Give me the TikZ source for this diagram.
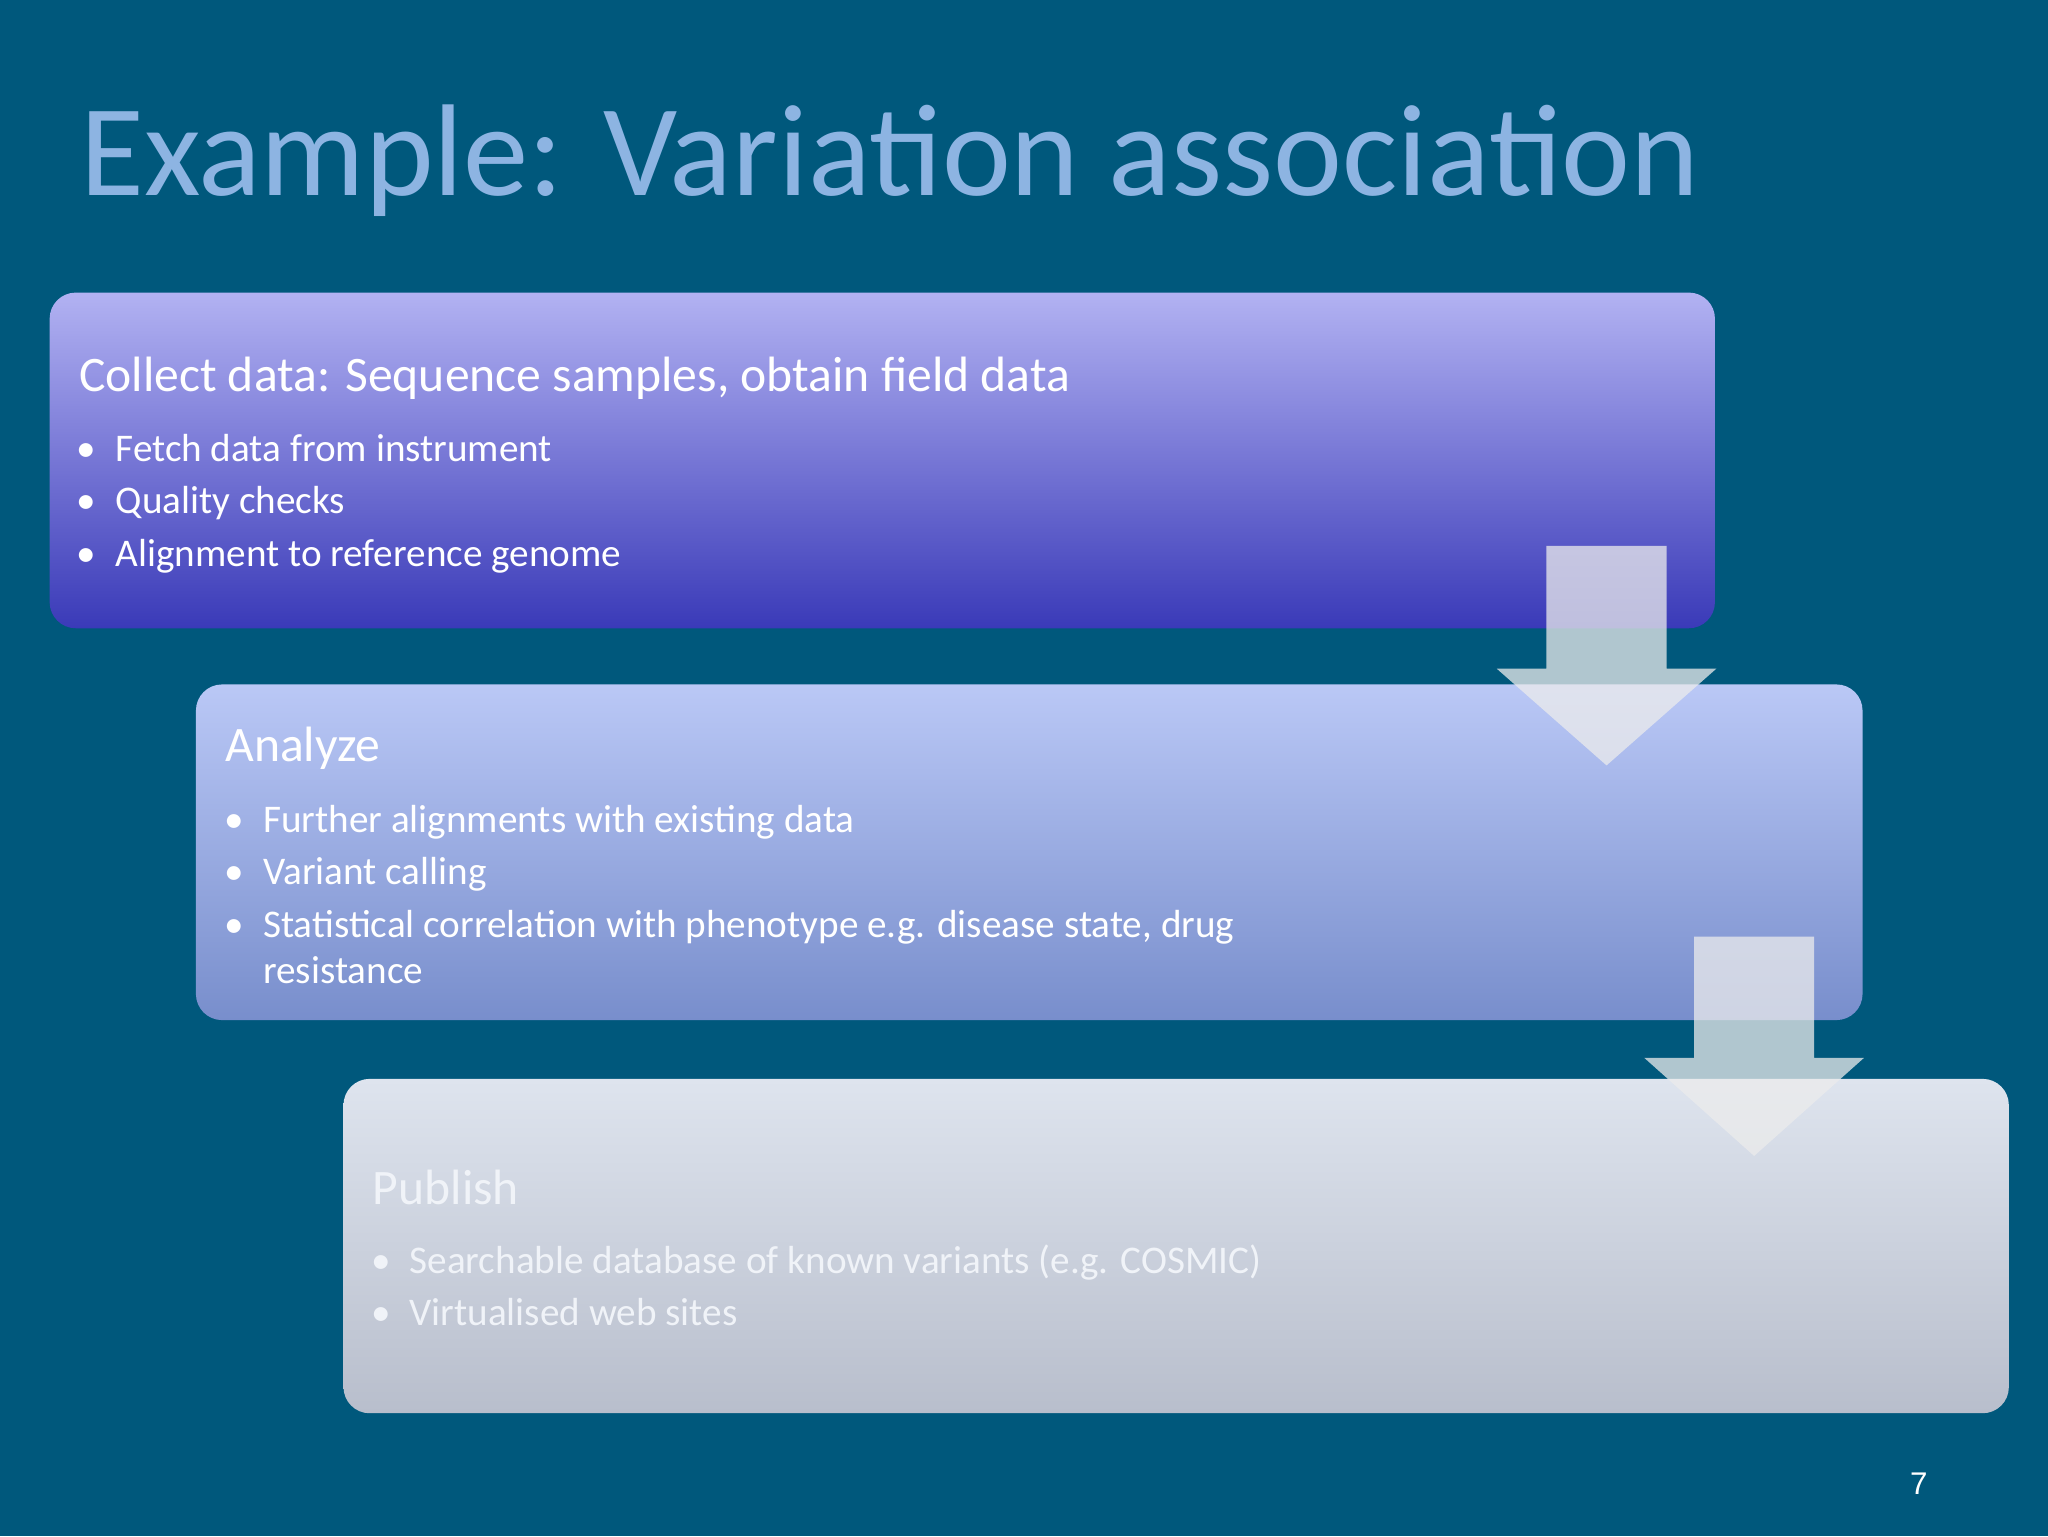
\documentclass[tikz,border=0pt]{standalone}
\usepackage{fontspec}
\setmainfont{Carlito}
\newfontfamily\arialf{Liberation Sans}
\begin{document}
\begin{tikzpicture}[x=1pt,y=-1pt,
  box/.style={rounded corners=20pt},
  arr/.style={fill=white!85!gray, fill opacity=0.75},
  hd/.style={anchor=base west, font=\fontsize{38}{40}\selectfont, text=white},
  bl/.style={anchor=base west, font=\fontsize{30}{34}\selectfont, text=white},
  dot/.style={anchor=base west, font=\fontsize{30}{34}\selectfont, text=white}]
\fill[fill={rgb,255:red,0;green,88;blue,124}] (0,0) rectangle (1568,1176);
\useasboundingbox (0,0) rectangle (1568,1176);
\node[anchor=base west, text={rgb,255:red,141;green,180;blue,226}, font=\fontsize{100}{100}\selectfont] (title) at (58,150) {Example: Variation association};
% box 1
\shade[box, top color={rgb,255:red,178;green,178;blue,242}, bottom color={rgb,255:red,58;green,58;blue,184}] (38,224) rectangle (1313,481);
\node[hd] (h1) at (57,300) {Collect data: Sequence samples, obtain field data};
\node[dot] (d11) at (55,353) {•}; \node[bl] (b11) at (85,353) {Fetch data from instrument};
\node[dot] (d12) at (55,393) {•}; \node[bl] (b12) at (85,393) {Quality checks};
\node[dot] (d13) at (55,434) {•}; \node[bl] (b13) at (85,434) {Alignment to reference genome};
% box 2
\shade[box, top color={rgb,255:red,186;green,200;blue,246}, bottom color={rgb,255:red,120;green,142;blue,204}] (150,524) rectangle (1426,781);
\node[hd] (h2) at (169,583) {Analyze};
\node[dot] (d21) at (168,637) {•}; \node[bl] (b21) at (198,637) {Further alignments with existing data};
\node[dot] (d22) at (168,677) {•}; \node[bl] (b22) at (198,677) {Variant calling};
\node[dot] (d23) at (168,718) {•}; \node[bl] (b23) at (198,718) {Statistical correlation with phenotype e.g. disease state, drug};
\node[bl] (b24) at (198,753) {resistance};
% arrow 1
\fill[arr] (1184,418) -- (1276,418) -- (1276,512) -- (1314,512) -- (1230,586) -- (1146,512) -- (1184,512) -- cycle;
% box 3
\shade[box, top color={rgb,255:red,222;green,228;blue,238}, bottom color={rgb,255:red,184;green,190;blue,204}] (263,826) rectangle (1538,1082);
\node[hd, text={rgb,255:red,240;green,243;blue,248}] (h3) at (282,922) {Publish};
\node[dot, text={rgb,255:red,240;green,243;blue,248}] (d31) at (281,975) {•}; \node[bl, text={rgb,255:red,240;green,243;blue,248}] (b31) at (310,975) {Searchable database of known variants (e.g. COSMIC)};
\node[dot, text={rgb,255:red,240;green,243;blue,248}] (d32) at (281,1015) {•}; \node[bl, text={rgb,255:red,240;green,243;blue,248}] (b32) at (310,1015) {Virtualised web sites};
% arrow 2
\fill[arr] (1297,717) -- (1389,717) -- (1389,810) -- (1427,810) -- (1343,885) -- (1259,810) -- (1297,810) -- cycle;
\node[anchor=base, text=white, font=\arialf\fontsize{24}{24}\selectfont] (pg) at (1469,1144) {7};
\end{tikzpicture}
\end{document}
